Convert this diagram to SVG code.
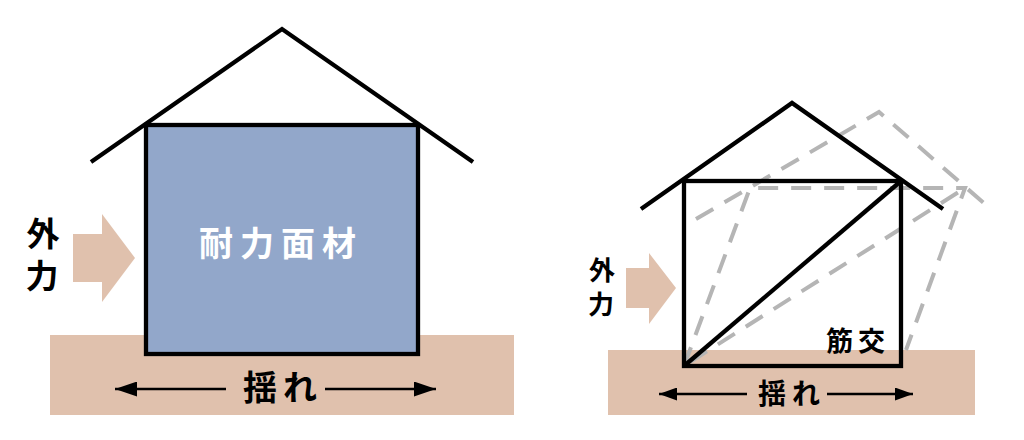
<svg xmlns="http://www.w3.org/2000/svg" width="1024" height="440" viewBox="0 0 1024 440">
<style>
.g{fill:#e0c1ad}
.l{fill:none;stroke:#000;stroke-width:4.3}
.d{fill:none;stroke:#b5b5b5;stroke-width:4;stroke-dasharray:20 13}
.t{font-family:"Noto Sans CJK JP","Noto Sans CJK SC",sans-serif;font-weight:700;fill:#000;text-anchor:middle}
.a{stroke:#000;stroke-width:2.5}
</style>
<defs>
<marker id="ah" viewBox="0 0 22 15" refX="22" refY="7.5" markerUnits="userSpaceOnUse" markerWidth="22" markerHeight="15" orient="auto-start-reverse"><path d="M0 0L22 7.5L0 15Z"/></marker>
<marker id="as" viewBox="0 0 18 13" refX="18" refY="6.5" markerUnits="userSpaceOnUse" markerWidth="18" markerHeight="13" orient="auto-start-reverse"><path d="M0 0L18 6.5L0 13Z"/></marker>
</defs>
<rect width="1024" height="440" fill="#fff"/>
<g id="left-house">
<rect class="g" x="50" y="335" width="464" height="80"/>
<path class="g" d="M73 234H102V214L135 258L102 302V282H73Z"/>
<rect x="146" y="125" width="272" height="229" fill="#92a7ca" stroke="#000" stroke-width="4.3"/>
<path class="l" d="M91 162L282 29L473 162"/>
<text class="t" x="281" y="256" font-size="34" style="fill:#fff;letter-spacing:7px">耐力面材</text>
<text class="t" x="43" y="246" font-size="33">外</text>
<text class="t" x="42" y="288" font-size="33">力</text>
<text class="t" x="283" y="400" font-size="34" style="letter-spacing:6px">揺れ</text>
</g>
<g id="right-house">
<rect class="g" x="608" y="350" width="367" height="65"/>
<path class="g" d="M626 268H649V253L676 288L649 324V308H626Z"/>
<path class="d" d="M684 366L750 188H965L906 350"/>
<path class="d" d="M690 362L965 188"/>
<path class="d" d="M696 219L879 112L993 211"/>
<rect x="684" y="181" width="217" height="185" class="l"/>
<path class="l" d="M641 209L792 103L943 209"/>
<path class="l" d="M684 366L901 181"/>
<text class="t" x="858" y="351" font-size="27" style="letter-spacing:5px">筋交</text>
<text class="t" x="602" y="280" font-size="26">外</text>
<text class="t" x="601" y="314" font-size="26">力</text>
<text class="t" x="792" y="404" font-size="28" style="letter-spacing:6px">揺れ</text>
</g>
<g id="connectors">
<path class="a" d="M226 389H115" marker-end="url(#ah)"/>
<path class="a" d="M325 389H436" marker-end="url(#ah)"/>
<path class="a" d="M747 394H659" marker-end="url(#as)"/>
<path class="a" d="M827 394H913" marker-end="url(#as)"/>
</g>
</svg>
